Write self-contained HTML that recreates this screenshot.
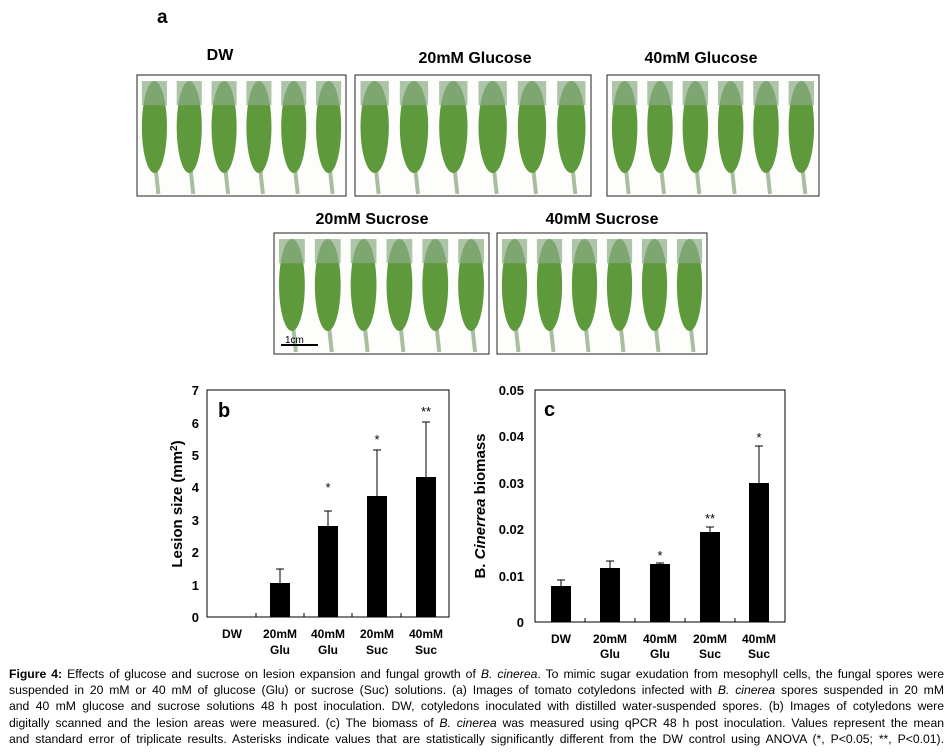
<!DOCTYPE html>
<html><head><meta charset="utf-8"><style>
body{margin:0;background:#fff;width:952px;height:753px;overflow:hidden;position:relative;font-family:"Liberation Sans",Arial,sans-serif}
.cap{position:absolute;left:9px;top:666px;width:935px;font-size:12.2px;line-height:16.2px;color:#000}
.cap div{text-align:justify;text-align-last:justify;white-space:nowrap;height:16.2px}
</style></head><body>
<svg id="s" width="952" height="660" style="position:absolute;left:0;top:0" font-family="Liberation Sans,Arial,sans-serif">
<text x="157" y="23" font-size="19" font-weight="bold">a</text>
<g font-size="16" font-weight="bold" text-anchor="middle">
<text x="220" y="60">DW</text>
<text x="475" y="63">20mM Glucose</text>
<text x="701" y="63">40mM Glucose</text>
<text x="372" y="224">20mM Sucrose</text>
<text x="602" y="224">40mM Sucrose</text>
</g>
<g id="photos"></g>
<line x1="281" y1="345" x2="318" y2="345" stroke="#000" stroke-width="2"/>
<text x="285" y="343" font-size="10">1cm</text>

<rect x="207" y="390" width="242" height="227" fill="none" stroke="#000" stroke-width="1"/>
<text x="218" y="417" font-size="20" font-weight="bold">b</text>
<g font-size="13" font-weight="bold" text-anchor="end">
<text x="199" y="622">0</text><text x="199" y="590">1</text><text x="199" y="557">2</text><text x="199" y="525">3</text><text x="199" y="492">4</text><text x="199" y="460">5</text><text x="199" y="428">6</text><text x="199" y="395">7</text>
</g>
<text transform="translate(182,504) rotate(-90)" font-size="15" font-weight="bold" text-anchor="middle">Lesion size (mm<tspan font-size="10" dy="-5">2</tspan><tspan dy="5">)</tspan></text>
<g fill="#000">
<rect x="270" y="583" width="20" height="34"/>
<rect x="318" y="526" width="20" height="91"/>
<rect x="367" y="496" width="20" height="121"/>
<rect x="416" y="477" width="20" height="140"/>
</g>
<g stroke="#000" stroke-width="1">
<path d="M280 583V569M276 569H284M328 526V511M324 511H332M377 496V450M373 450H381M426 477V422M422 422H430"/>
<path d="M256 617v-4M304 617v-4M352 617v-4M401 617v-4"/>
</g>
<g font-size="13" text-anchor="middle"><text x="328" y="492">*</text><text x="377" y="444">*</text><text x="426" y="416">**</text></g>
<g font-size="12" font-weight="bold" text-anchor="middle">
<text x="232" y="638">DW</text>
<text x="280" y="638">20mM</text><text x="280" y="654">Glu</text>
<text x="328" y="638">40mM</text><text x="328" y="654">Glu</text>
<text x="377" y="638">20mM</text><text x="377" y="654">Suc</text>
<text x="426" y="638">40mM</text><text x="426" y="654">Suc</text>
</g>

<rect x="535" y="390" width="250" height="232" fill="none" stroke="#000" stroke-width="1"/>
<text x="544" y="416" font-size="20" font-weight="bold">c</text>
<g font-size="13" font-weight="bold" text-anchor="end">
<text x="524" y="627">0</text><text x="524" y="581">0.01</text><text x="524" y="534">0.02</text><text x="524" y="488">0.03</text><text x="524" y="441">0.04</text><text x="524" y="395">0.05</text>
</g>
<text transform="translate(485,506) rotate(-90)" font-size="15" font-weight="bold" text-anchor="middle">B. <tspan font-style="italic">Cinerrea</tspan> biomass</text>
<g fill="#000">
<rect x="551" y="586" width="20" height="36"/>
<rect x="600" y="568" width="20" height="54"/>
<rect x="650" y="564" width="20" height="58"/>
<rect x="700" y="532" width="20" height="90"/>
<rect x="749" y="483" width="20" height="139"/>
</g>
<g stroke="#000" stroke-width="1">
<path d="M561 586V580M557 580H565M610 568V561M606 561H614M660 564V563M656 563H664M710 532V527M706 527H714M759 483V446M755 446H763"/>
<path d="M585 622v-4M635 622v-4M685 622v-4M735 622v-4"/>
</g>
<g font-size="13" text-anchor="middle"><text x="660" y="560">*</text><text x="710" y="523">**</text><text x="759" y="442">*</text></g>
<g font-size="12" font-weight="bold" text-anchor="middle">
<text x="561" y="643">DW</text>
<text x="610" y="643">20mM</text><text x="610" y="658">Glu</text>
<text x="660" y="643">40mM</text><text x="660" y="658">Glu</text>
<text x="710" y="643">20mM</text><text x="710" y="658">Suc</text>
<text x="759" y="643">40mM</text><text x="759" y="658">Suc</text>
</g>
</svg>
<div class="cap">
<div><b>Figure 4:</b> Effects of glucose and sucrose on lesion expansion and fungal growth of <i>B. cinerea</i>. To mimic sugar exudation from mesophyll cells, the fungal spores were</div>
<div>suspended in 20 mM or 40 mM of glucose (Glu) or sucrose (Suc) solutions. (a) Images of tomato cotyledons infected with <i>B. cinerea</i> spores suspended in 20 mM</div>
<div>and 40 mM glucose and sucrose solutions 48 h post inoculation. DW, cotyledons inoculated with distilled water-suspended spores. (b) Images of cotyledons were</div>
<div>digitally scanned and the lesion areas were measured. (c) The biomass of <i>B. cinerea</i> was measured using qPCR 48 h post inoculation. Values represent the mean</div>
<div>and standard error of triplicate results. Asterisks indicate values that are statistically significantly different from the DW control using ANOVA (*, P&lt;0.05; **, P&lt;0.01).</div>
</div>
<script>
var boxes=[[137,75,209,121],[355,75,236,121],[607,75,212,121],[274,233,215,121],[497,233,210,121]];
var g=document.getElementById('photos'),h='';
boxes.forEach(function(b){
 var x=b[0],y=b[1],w=b[2],hh=b[3];
 h+='<rect x="'+x+'" y="'+y+'" width="'+w+'" height="'+hh+'" fill="#fdfdfc" stroke="#222" stroke-width="1"/>';
 var n=6,sp=w/n;
 for(var i=0;i<n;i++){
  var cx=x+sp*(i+0.5),cy=y+hh*0.43;
  h+='<line x1="'+cx+'" y1="'+(cy+30)+'" x2="'+(cx+4)+'" y2="'+(y+hh-2)+'" stroke="#a7bfa0" stroke-width="4"/>';
  h+='<ellipse cx="'+cx+'" cy="'+cy+'" rx="'+(sp*0.36)+'" ry="'+(hh*0.38)+'" fill="#5e9a3c"/>';
  h+='<rect x="'+(cx-sp*0.36)+'" y="'+(cy-hh*0.38)+'" width="'+(sp*0.72)+'" height="'+(hh*0.2)+'" fill="#8cab86" opacity="0.7"/>';
 }
});
g.innerHTML=h;
</script>
</body></html>
